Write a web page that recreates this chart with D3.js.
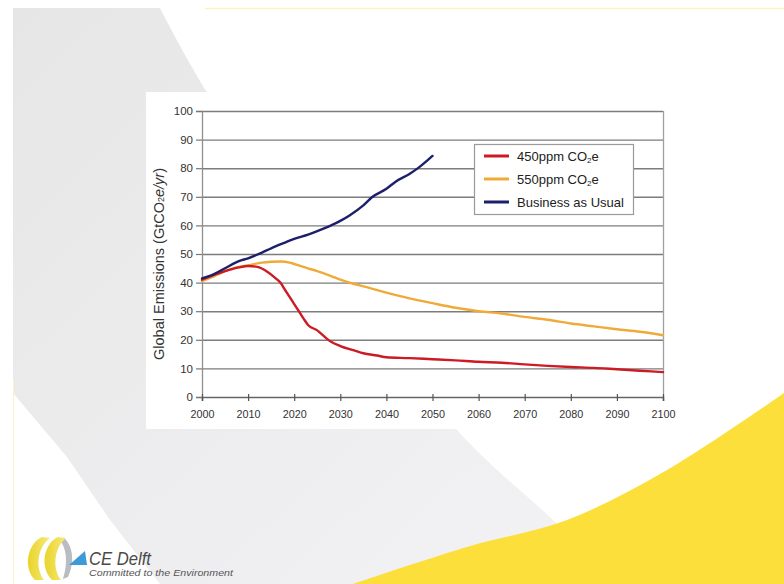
<!DOCTYPE html>
<html>
<head>
<meta charset="utf-8">
<script src="https://cdn.jsdelivr.net/npm/d3@7"></script>
<style>
  html, body { margin: 0; padding: 0; background: #ffffff; }
  svg { display: block; }
</style>
</head>
<body>
<svg id="chart" width="784" height="584"></svg>
<script>
// ---------- data ----------
const xTicks = [2000, 2010, 2020, 2030, 2040, 2050, 2060, 2070, 2080, 2090, 2100];
const yTicks = [0, 10, 20, 30, 40, 50, 60, 70, 80, 90, 100];

const years450 = [2000,2005,2008,2010,2012,2014,2016,2017,2018,2019,2020,2021,2022,2023,2025,2027,2028,2030,2033,2035,2038,2040,2045,2050,2055,2060,2065,2070,2075,2080,2085,2090,2095,2100];
const values450 = [41,44,45.3,45.8,45.5,44,41.5,40,37.5,35,32.5,30,27.5,25.2,23.3,20.5,19.3,17.8,16.3,15.3,14.5,13.9,13.6,13.2,12.8,12.3,12,11.4,10.9,10.5,10.2,9.7,9.2,8.7];

const years550 = [2000,2003,2005,2008,2010,2013,2015,2017,2019,2020,2023,2025,2028,2030,2033,2035,2040,2045,2050,2055,2060,2065,2070,2075,2080,2085,2090,2095,2100];
const values550 = [40.5,42.5,44,45.5,46,47,47.3,47.4,47,46.5,45,44,42.3,41,39.5,38.7,36.5,34.5,32.8,31.2,30,29.2,28,27,25.7,24.7,23.7,22.8,21.6];

const yearsBau = [2000,2002,2005,2008,2010,2013,2015,2018,2020,2023,2025,2028,2030,2032,2035,2037,2040,2042,2045,2047,2050];
const valuesBau = [41.5,42.5,45,47.5,48.5,50.5,52,54,55.3,56.8,58,60,61.6,63.5,67,70,72.8,75.3,78,80.2,84.3];

const seriesNames = ["450ppm CO", "550ppm CO", "Business as Usual"];
const seriesColors = ["#cc1b24", "#efab3a", "#1d1f6b"];

// ---------- page background ----------
const svg = d3.select("#chart");
const defs = svg.append("defs");
const g1 = defs.append("linearGradient").attr("id", "grayGrad")
  .attr("x1", "0").attr("y1", "0").attr("x2", "1").attr("y2", "1");
g1.append("stop").attr("offset", "0%").attr("stop-color", "#e6e6e7");
g1.append("stop").attr("offset", "100%").attr("stop-color", "#f3f3f5");

const curve = d3.line().curve(d3.curveCatmullRom.alpha(0.5));
const rightEdge = [[160,8],[207,92],[330,262],[457,430],[553,520],[620,584]];
const leftEdge = [[160,584],[110,520],[67,457],[13,393]];
svg.append("path")
  .attr("d", "M13,8 L" + curve(rightEdge).slice(1) + " L" + leftEdge.map(p => p.join(",")).join(" L") + " Z")
  .attr("fill", "url(#grayGrad)");

const yellowEdge = [[353,584],[467,547],[567,520],[667,470],[784,393]];
svg.append("path")
  .attr("d", curve(yellowEdge) + " L784,584 Z")
  .attr("fill", "#fcdf3a");

// faint top/left lines
svg.append("line").attr("x1", 205).attr("x2", 784).attr("y1", 8.5).attr("y2", 8.5)
  .attr("stroke", "#fdf3c2").attr("stroke-width", 1.5);
svg.append("line").attr("x1", 13.5).attr("x2", 13.5).attr("y1", 380).attr("y2", 584)
  .attr("stroke", "#fbf3c8").attr("stroke-width", 1);

// chart white box
svg.append("rect").attr("x", 146).attr("y", 92).attr("width", 544).attr("height", 337).attr("fill", "#ffffff");

// ---------- chart ----------
const x = d3.scaleLinear().domain([2000, 2100]).range([202, 663]);
const y = d3.scaleLinear().domain([0, 100]).range([397, 111]);

// gridlines
svg.append("g")
  .selectAll("line").data(yTicks.filter(d => d > 0)).join("line")
  .attr("x1", x(2000)).attr("x2", x(2100))
  .attr("y1", d => y(d) + 0.5).attr("y2", d => y(d) + 0.5)
  .attr("stroke", "#7c7c7c").attr("stroke-width", 1.4);

// right border
svg.append("line").attr("x1", x(2100) + 0.5).attr("x2", x(2100) + 0.5)
  .attr("y1", y(100)).attr("y2", y(0))
  .attr("stroke", "#a0a0a0").attr("stroke-width", 1.3);

// y axis
const yAxis = svg.append("g").attr("transform", `translate(${x(2000)},0)`)
  .call(d3.axisLeft(y).tickValues(yTicks).tickSize(6).tickPadding(3));
yAxis.select(".domain").attr("stroke", "#8f8f8f").attr("stroke-width", 1.3);
yAxis.selectAll(".tick line").attr("stroke", "#777").attr("stroke-width", 1.2);
yAxis.selectAll("text").attr("font-family", "Liberation Sans, Arial, sans-serif")
  .attr("font-size", 11.5).attr("fill", "#333");

// x axis
const xAxis = svg.append("g").attr("transform", `translate(0,${y(0)})`)
  .call(d3.axisBottom(x).tickValues(xTicks).tickFormat(d3.format("d")).tickSize(4).tickPadding(9));
xAxis.select(".domain").attr("stroke", "#666").attr("stroke-width", 1.6);
xAxis.selectAll(".tick line").attr("y1", -3).attr("stroke", "#555").attr("stroke-width", 1.2);
xAxis.selectAll("text").attr("font-family", "Liberation Sans, Arial, sans-serif")
  .attr("font-size", 11.5).attr("fill", "#333")
  .attr("textLength", 24).attr("lengthAdjust", "spacingAndGlyphs");

// y axis title
const yt = svg.append("text")
  .attr("transform", "translate(159,264) rotate(-90)")
  .attr("text-anchor", "middle").attr("dominant-baseline", "central")
  .attr("font-family", "Liberation Sans, Arial, sans-serif")
  .attr("font-size", 14.5).attr("fill", "#333");
yt.append("tspan").text("Global Emissions (GtCO");
yt.append("tspan").text("2").attr("font-size", 9).attr("baseline-shift", "-25%");
yt.append("tspan").text("e/yr").attr("font-style", "italic");
yt.append("tspan").text(")");

// lines
const line = d3.line().x(d => x(d[0])).y(d => y(d[1])).curve(d3.curveMonotoneX);
const seriesData = [
  d3.zip(years550, values550),
  d3.zip(years450, values450),
  d3.zip(yearsBau, valuesBau)
];
const seriesColorOrder = [seriesColors[1], seriesColors[0], seriesColors[2]];
svg.append("g").selectAll("path").data(seriesData).join("path")
  .attr("d", line)
  .attr("fill", "none")
  .attr("stroke", (d, i) => seriesColorOrder[i])
  .attr("stroke-width", 2.4)
  .attr("stroke-linejoin", "round")
  .attr("stroke-linecap", "round");

// legend
const lg = svg.append("g");
lg.append("rect").attr("x", 474.5).attr("y", 144.5).attr("width", 159).attr("height", 70)
  .attr("fill", "#ffffff").attr("stroke", "#9a9a9a").attr("stroke-width", 1.2);
const rows = lg.selectAll("g.row").data(seriesNames).join("g")
  .attr("class", "row")
  .attr("transform", (d, i) => `translate(0,${156 + i * 23})`);
rows.append("line").attr("x1", 484).attr("x2", 509).attr("y1", 0).attr("y2", 0)
  .attr("stroke", (d, i) => seriesColors[i]).attr("stroke-width", 3);
const rt = rows.append("text").attr("x", 517).attr("y", 0).attr("dy", "0.36em")
  .attr("font-family", "Liberation Sans, Arial, sans-serif")
  .attr("font-size", 13).attr("fill", "#222");
rt.append("tspan").text(d => d);
rt.filter((d, i) => i < 2).append("tspan").text("2").attr("font-size", 8).attr("baseline-shift", "-30%");
rt.filter((d, i) => i < 2).append("tspan").text("e");

// ---------- logo ----------
const logo = svg.append("g");
const yg = defs.append("linearGradient").attr("id", "yelGrad")
  .attr("x1", "0").attr("y1", "0").attr("x2", "1").attr("y2", "0");
yg.append("stop").attr("offset", "0%").attr("stop-color", "#e9d42a");
yg.append("stop").attr("offset", "100%").attr("stop-color", "#f6ea7a");
logo.append("path").attr("d", "M64,538 C73,546 75,562 68,577 L63,579 C68,563 67,548 59,539 Z").attr("fill", "#b9bcc0");
logo.append("path").attr("d", "M42,537 C27,544 23,568 35,580 L44,580 C35,568 37,548 50,538 Z").attr("fill", "url(#yelGrad)");
logo.append("path").attr("d", "M58,537 C43,544 40,568 52,580 L61,580 C52,568 54,548 66,538 Z").attr("fill", "url(#yelGrad)");
logo.append("path").attr("d", "M69,565 L87,565 L85,551 Z").attr("fill", "#3d9ad6");
logo.append("text").attr("x", 89).attr("y", 565)
  .attr("font-family", "Liberation Sans, Arial, sans-serif").attr("font-style", "italic")
  .attr("font-size", 19).attr("fill", "#4a4a4a")
  .attr("textLength", 62).attr("lengthAdjust", "spacingAndGlyphs")
  .text("CE Delft");
logo.append("text").attr("x", 89).attr("y", 576)
  .attr("font-family", "Liberation Sans, Arial, sans-serif").attr("font-style", "italic")
  .attr("font-size", 8.5).attr("fill", "#555")
  .attr("textLength", 144).attr("lengthAdjust", "spacingAndGlyphs")
  .text("Committed to the Environment");
</script>
</body>
</html>
